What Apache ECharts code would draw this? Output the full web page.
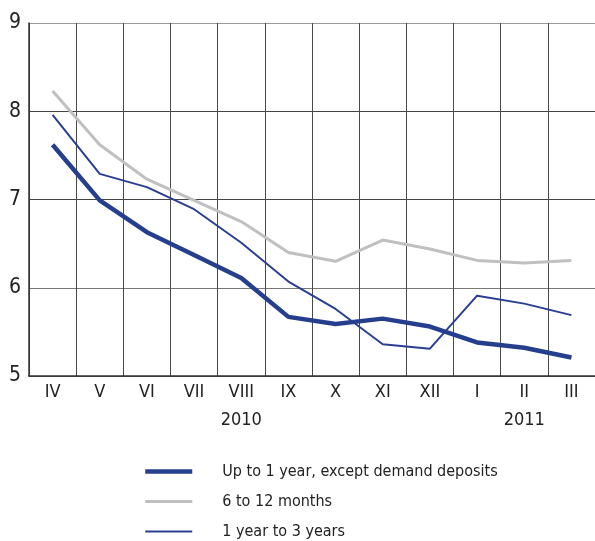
<!DOCTYPE html>
<html>
<head>
<meta charset="utf-8">
<script src="https://cdn.jsdelivr.net/npm/echarts@6/dist/echarts.min.js"></script>
<style>
  html, body { margin: 0; padding: 0; background: #fff; }
  #chart { width: 595px; height: 541px; }
</style>
</head>
<body>
<div id="chart"></div>
<script>
// months from April 2010 to March 2011
const months = ['IV', 'V', 'VI', 'VII', 'VIII', 'IX', 'X', 'XI', 'XII', 'I', 'II', 'III']
const yearLabels = ['', '', '', '', '2010', '', '', '', '', '', '2011', '']

const upTo1Year = [7.62, 6.99, 6.63, 6.37, 6.11, 5.67, 5.59, 5.65, 5.56, 5.38, 5.32, 5.21]
const sixTo12Months = [8.23, 7.62, 7.23, 6.99, 6.75, 6.40, 6.30, 6.54, 6.44, 6.31, 6.28, 6.31]
const oneTo3Years = [7.96, 7.29, 7.14, 6.89, 6.51, 6.07, 5.76, 5.36, 5.31, 5.91, 5.82, 5.69]

const font = "'DejaVu Sans Condensed', 'Liberation Sans Narrow', sans-serif"
const names = ['Up to 1 year, except demand deposits', '6 to 12 months', '1 year to 3 years']

let myChart = echarts.init(document.getElementById('chart'))
myChart.setOption({
    animation: false,
    textStyle: { fontFamily: font },
    grid: {
        left: 29,
        right: -3,
        top: 23,
        bottom: 165
    },
    legend: {
        orient: 'vertical',
        left: 143,
        top: 462,
        padding: 0,
        itemWidth: 47,
        itemHeight: 19,
        itemGap: 11,
        data: [
            { name: names[0], lineStyle: { width: 4.5 } },
            { name: names[1], lineStyle: { width: 3 } },
            { name: names[2], lineStyle: { width: 2 } }
        ],
        itemStyle: { opacity: 0 },
        textStyle: {
            fontFamily: font,
            fontSize: 16,
            lineHeight: 19,
            color: '#222',
            padding: [0, 0, 0, 25]
        }
    },
    xAxis: [
        {
            type: 'category',
            data: months,
            boundaryGap: true,
            axisLine: { lineStyle: { color: '#333', width: 1.5 } },
            axisTick: { show: false },
            splitLine: { show: true, lineStyle: { color: '#4a4a4a', width: 1 } },
            axisLabel: { fontFamily: font, fontSize: 18, color: '#222', margin: 7 }
        },
        {
            type: 'category',
            data: yearLabels,
            position: 'bottom',
            offset: 28,
            axisLine: { show: false },
            axisTick: { show: false },
            axisLabel: { interval: 0, fontFamily: font, fontSize: 18, color: '#222', margin: 7 }
        }
    ],
    yAxis: {
        type: 'value',
        min: 5,
        max: 9,
        interval: 1,
        axisLine: { show: true, lineStyle: { color: '#333', width: 1.5 } },
        axisTick: { show: false },
        // top gridline is lighter in the original
        splitLine: { lineStyle: { color: ['#444', '#777', '#444', '#444', '#999'], width: 1 } },
        axisLabel: { fontFamily: font, fontSize: 21, color: '#222', margin: 8 }
    },
    series: [
        {
            name: names[1],
            type: 'line',
            data: sixTo12Months,
            symbol: 'none',
            lineStyle: { color: '#c0c0c2', width: 3 },
            itemStyle: { color: '#c0c0c2' }
        },
        {
            name: names[2],
            type: 'line',
            data: oneTo3Years,
            symbol: 'none',
            lineStyle: { color: '#2a3f92', width: 2 },
            itemStyle: { color: '#2a3f92' }
        },
        {
            name: names[0],
            type: 'line',
            data: upTo1Year,
            symbol: 'none',
            lineStyle: { color: '#253e8d', width: 4.5 },
            itemStyle: { color: '#253e8d' }
        }
    ]
})
</script>
</body>
</html>
